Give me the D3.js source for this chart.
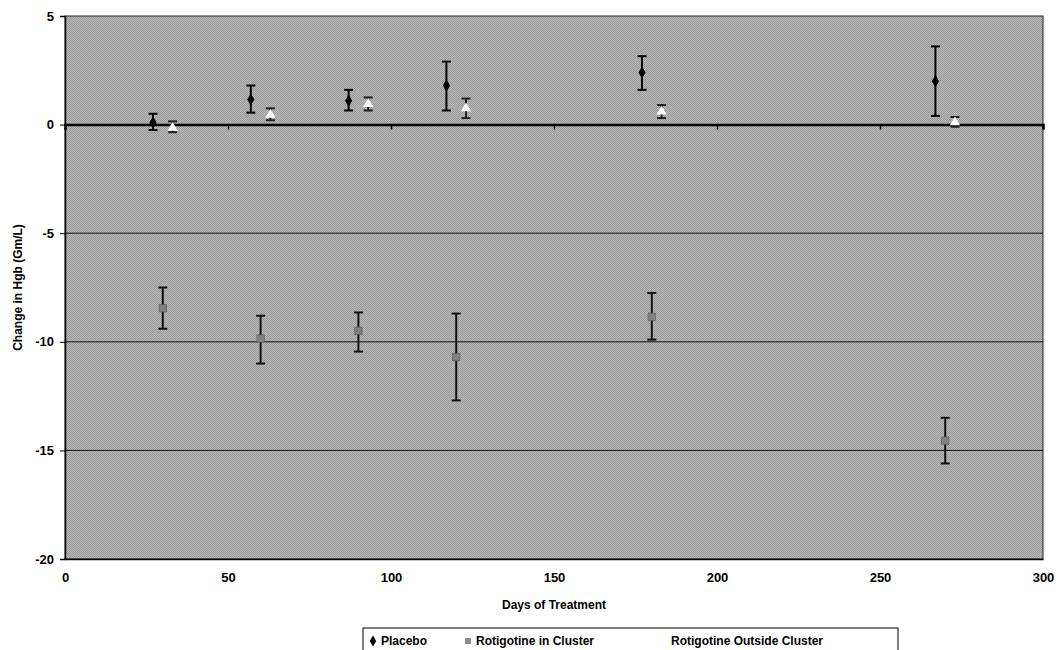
<!DOCTYPE html>
<html>
<head>
<meta charset="utf-8">
<script src="https://cdn.jsdelivr.net/npm/d3@7"></script>
<style>
  body { margin: 0; background: #fff; }
  text { font-family: "Liberation Sans", Arial, sans-serif; }
</style>
</head>
<body>
<script>
let w = 1058;
let h = 650;

// days at which each series is plotted (offset slightly so the bars don't overlap)
let placeboDays = [27, 57, 87, 117, 177, 267];
let clusterDays = [30, 60, 90, 120, 180, 270];
let outsideDays = [33, 63, 93, 123, 183, 273];

let placeboMean = [0.1, 1.15, 1.1, 1.8, 2.4, 2.0];
let placeboLow  = [-0.25, 0.55, 0.65, 0.65, 1.6, 0.4];
let placeboHigh = [0.5, 1.8, 1.6, 2.9, 3.15, 3.6];

let clusterMean = [-8.45, -9.85, -9.5, -10.7, -8.85, -14.55];
let clusterLow  = [-9.4, -11.0, -10.45, -12.7, -9.9, -15.6];
let clusterHigh = [-7.5, -8.8, -8.65, -8.7, -7.75, -13.5];

let outsideMean = [-0.15, 0.45, 0.95, 0.75, 0.6, 0.1];
let outsideLow  = [-0.35, 0.2, 0.65, 0.3, 0.3, -0.1];
let outsideHigh = [0.15, 0.75, 1.25, 1.2, 0.9, 0.35];

let xTicks = [0, 50, 100, 150, 200, 250, 300];
let yTicks = [5, 0, -5, -10, -15, -20];
let legendNames = ["Placebo", "Rotigotine in Cluster", "Rotigotine Outside Cluster"];

let pLeft = 65, pRight = 1043, pTop = 16, pBottom = 559;

let xScale = d3.scaleLinear().domain([0, 300]).range([pLeft, pRight]);
let yScale = d3.scaleLinear().domain([-20, 5]).range([pBottom, pTop]);

let svg = d3.select("body")
  .append("svg")
  .attr("width", w)
  .attr("height", h);

// dithered grey fill, like the scanned original
let pat = svg.append("defs").append("pattern")
  .attr("id", "dither")
  .attr("width", 2)
  .attr("height", 2)
  .attr("patternUnits", "userSpaceOnUse");
pat.append("rect").attr("width", 2).attr("height", 2).attr("fill", "#b8b8b8");
pat.append("rect").attr("width", 1).attr("height", 1).attr("fill", "#9a9a9a");
pat.append("rect").attr("x", 1).attr("y", 1).attr("width", 1).attr("height", 1).attr("fill", "#9a9a9a");

// plot background
svg.append("rect")
  .attr("x", pLeft)
  .attr("y", pTop)
  .attr("width", pRight - pLeft)
  .attr("height", pBottom - pTop)
  .attr("fill", "url(#dither)")
  .attr("stroke", "#222")
  .attr("stroke-width", 1);

// gridlines
svg.selectAll("line.grid")
  .data([-5, -10, -15])
  .enter()
  .append("line")
  .attr("class", "grid")
  .attr("x1", pLeft)
  .attr("x2", pRight)
  .attr("y1", d => yScale(d))
  .attr("y2", d => yScale(d))
  .attr("stroke", "#111")
  .attr("stroke-width", 1);

// y axis
let yAxis = d3.axisLeft(yScale).tickValues(yTicks).tickSize(5).tickPadding(6);
let gy = svg.append("g")
  .attr("transform", "translate(" + pLeft + ",0)")
  .call(yAxis);
gy.select(".domain").attr("stroke", "#000").attr("stroke-width", 1.5);
gy.selectAll("text")
  .attr("font-size", "13px")
  .attr("font-weight", "bold")
  .attr("fill", "#000")
  .text(d => d);

// x axis at zero (ticks only)
let gx0 = svg.append("g")
  .attr("transform", "translate(0," + yScale(0) + ")")
  .call(d3.axisBottom(xScale).tickValues(xTicks).tickSize(5).tickFormat(""));
gx0.select(".domain").attr("stroke", "#000").attr("stroke-width", 2.5);
gx0.selectAll(".tick line").attr("stroke-width", 1.5);

// x tick labels at the bottom
let gx = svg.append("g")
  .attr("transform", "translate(0," + pBottom + ")")
  .call(d3.axisBottom(xScale).tickValues(xTicks).tickSize(0).tickPadding(14));
gx.select(".domain").attr("stroke", "#000").attr("stroke-width", 1.5);
gx.selectAll("text")
  .attr("font-size", "13px")
  .attr("font-weight", "bold")
  .attr("fill", "#000");

// axis titles
svg.append("text")
  .attr("x", (pLeft + pRight) / 2)
  .attr("y", 609)
  .attr("text-anchor", "middle")
  .attr("font-size", "12px")
  .attr("font-weight", "bold")
  .text("Days of Treatment");

svg.append("text")
  .attr("transform", "translate(22," + ((pTop + pBottom) / 2) + ") rotate(-90)")
  .attr("text-anchor", "middle")
  .attr("font-size", "12px")
  .attr("font-weight", "bold")
  .text("Change in Hgb (Gm/L)");

// error bars + markers
function drawSeries(days, mean, low, high, opts) {
  let data = days.map((d, i) => ({ day: d, mean: mean[i], low: low[i], high: high[i] }));
  let g = svg.append("g");
  g.selectAll("line.bar")
    .data(data)
    .enter()
    .append("line")
    .attr("x1", d => xScale(d.day))
    .attr("x2", d => xScale(d.day))
    .attr("y1", d => yScale(d.low))
    .attr("y2", d => yScale(d.high))
    .attr("stroke", opts.barColor)
    .attr("stroke-width", 2);
  ["low", "high"].forEach(k => {
    g.selectAll("line.cap" + k)
      .data(data)
      .enter()
      .append("line")
      .attr("x1", d => xScale(d.day) - 4.5)
      .attr("x2", d => xScale(d.day) + 4.5)
      .attr("y1", d => yScale(d[k]))
      .attr("y2", d => yScale(d[k]))
      .attr("stroke", opts.barColor)
      .attr("stroke-width", 2);
  });
  g.selectAll("path.pt")
    .data(data)
    .enter()
    .append("path")
    .attr("transform", d => "translate(" + xScale(d.day) + "," + yScale(d.mean) + ")")
    .attr("d", d3.symbol().type(opts.symbol).size(opts.size))
    .attr("fill", opts.fill)
    .attr("stroke", opts.stroke)
    .attr("stroke-width", 0.6);
}

drawSeries(placeboDays, placeboMean, placeboLow, placeboHigh,
  { barColor: "#000", symbol: d3.symbolDiamond, size: 45, fill: "#000", stroke: "none" });
drawSeries(clusterDays, clusterMean, clusterLow, clusterHigh,
  { barColor: "#111", symbol: d3.symbolSquare, size: 55, fill: "#808080", stroke: "#555" });
drawSeries(outsideDays, outsideMean, outsideLow, outsideHigh,
  { barColor: "#222", symbol: d3.symbolTriangle, size: 45, fill: "#fff", stroke: "none" });

// legend
let lg = svg.append("g");
lg.append("rect")
  .attr("x", 363)
  .attr("y", 628)
  .attr("width", 535)
  .attr("height", 30)
  .attr("fill", "#fff")
  .attr("stroke", "#000")
  .attr("stroke-width", 1);

let legendX = [373, 468, 663];
let legendSym = [d3.symbolDiamond, d3.symbolSquare, d3.symbolTriangle];
let legendFill = ["#000", "#8a8a8a", "#fff"];

lg.selectAll("path")
  .data(legendNames)
  .enter()
  .append("path")
  .attr("transform", (d, i) => "translate(" + legendX[i] + ",641)")
  .attr("d", (d, i) => d3.symbol().type(legendSym[i]).size(36)())
  .attr("fill", (d, i) => legendFill[i]);

lg.selectAll("text")
  .data(legendNames)
  .enter()
  .append("text")
  .attr("x", (d, i) => legendX[i] + 8)
  .attr("y", 645)
  .attr("font-size", "12px")
  .attr("font-weight", "bold")
  .text(d => d);
</script>
</body>
</html>
